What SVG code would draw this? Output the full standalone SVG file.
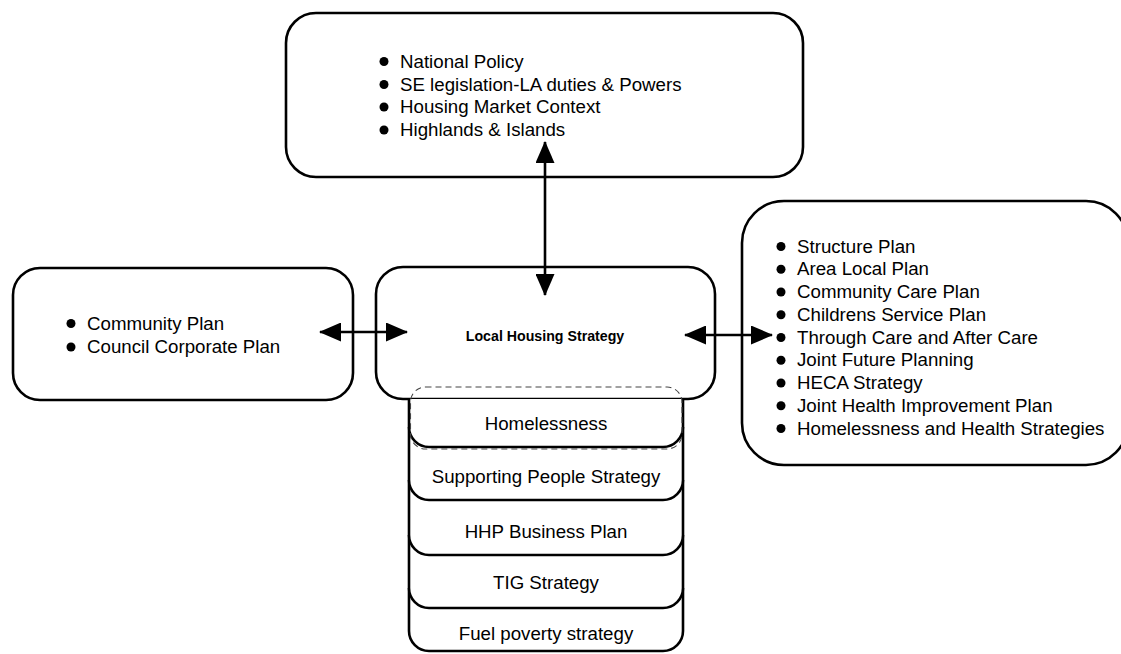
<svg xmlns="http://www.w3.org/2000/svg" width="1121" height="654" viewBox="0 0 1121 654">
<style>
.box{fill:#fff;stroke:#000;stroke-width:2.6}
.st{fill:#fff;stroke:#000;stroke-width:2.6}
.t{font-family:"Liberation Sans",Arial,sans-serif;font-size:18.7px;fill:#000}
.c{text-anchor:middle}
.b{font-weight:bold;font-size:14.2px}
.dot{fill:#000}
.dash{fill:none;stroke:#444;stroke-width:1.1;stroke-dasharray:6 4}
.con{stroke:#000;stroke-width:2.6;fill:none}
</style>
<defs>
<marker id="ah" viewBox="0 0 22 19" refX="21" refY="9.5" markerWidth="22" markerHeight="19" markerUnits="userSpaceOnUse" orient="auto-start-reverse">
<path d="M0,0 L22,9.5 L0,19 Z" fill="#000"/>
</marker>
</defs>

<g id="national">
<rect class="box" x="286" y="13" width="517" height="164" rx="30"/>
<g class="dot">
<circle cx="384" cy="61.5" r="4.5"/>
<circle cx="384" cy="84.5" r="4.5"/>
<circle cx="384" cy="107" r="4.5"/>
<circle cx="384" cy="130" r="4.5"/>
</g>
<text class="t" x="400" y="67.5">National Policy</text>
<text class="t" x="400" y="90.5">SE legislation-LA duties &amp; Powers</text>
<text class="t" x="400" y="113">Housing Market Context</text>
<text class="t" x="400" y="136">Highlands &amp; Islands</text>
</g>

<g id="community">
<rect class="box" x="13" y="268" width="340" height="132" rx="27"/>
<g class="dot">
<circle cx="71" cy="323.5" r="4.5"/>
<circle cx="71" cy="347" r="4.5"/>
</g>
<text class="t" x="87" y="329.5">Community Plan</text>
<text class="t" x="87" y="353">Council Corporate Plan</text>
</g>

<g id="plans">
<rect class="box" x="742" y="201" width="386" height="264" rx="42"/>
<g class="dot">
<circle cx="781" cy="246.5" r="4.5"/>
<circle cx="781" cy="269.25" r="4.5"/>
<circle cx="781" cy="292" r="4.5"/>
<circle cx="781" cy="314.75" r="4.5"/>
<circle cx="781" cy="337.5" r="4.5"/>
<circle cx="781" cy="360.25" r="4.5"/>
<circle cx="781" cy="383" r="4.5"/>
<circle cx="781" cy="405.75" r="4.5"/>
<circle cx="781" cy="428.5" r="4.5"/>
</g>
<text class="t" x="797" y="252.5">Structure Plan</text>
<text class="t" x="797" y="275.25">Area Local Plan</text>
<text class="t" x="797" y="298">Community Care Plan</text>
<text class="t" x="797" y="320.75">Childrens Service Plan</text>
<text class="t" x="797" y="343.5">Through Care and After Care</text>
<text class="t" x="797" y="366.25">Joint Future Planning</text>
<text class="t" x="797" y="389">HECA Strategy</text>
<text class="t" x="797" y="411.75">Joint Health Improvement Plan</text>
<text class="t" x="797" y="434.5">Homelessness and Health Strategies</text>
</g>

<g id="lhs">
<rect class="box" x="376" y="267" width="339" height="132" rx="27"/>
<text class="t b c" x="545" y="341">Local Housing Strategy</text>
</g>

<g id="fuel">
<path class="st" d="M409,588 V631 A20,20 0 0 0 429,651 H663 A20,20 0 0 0 683,631 V588"/>
<text class="t c" x="546" y="640">Fuel poverty strategy</text>
</g>
<g id="tig">
<path class="st" d="M409,535 V588 A20,20 0 0 0 429,608 H663 A20,20 0 0 0 683,588 V535"/>
<text class="t c" x="546" y="589.3">TIG Strategy</text>
</g>
<g id="hhp">
<path class="st" d="M409,480 V535 A20,20 0 0 0 429,555 H663 A20,20 0 0 0 683,535 V480"/>
<text class="t c" x="546" y="538.3">HHP Business Plan</text>
</g>
<g id="supporting">
<path class="st" d="M409,427 V480 A20,20 0 0 0 429,500 H663 A20,20 0 0 0 683,480 V427"/>
<text class="t c" x="546" y="482.7">Supporting People Strategy</text>
</g>
<g id="homelessness">
<path class="st" d="M409,399 V427 A20,20 0 0 0 429,447 H663 A20,20 0 0 0 683,427 V399"/>
<rect class="dash" x="410.5" y="387" width="271.5" height="62" rx="15"/>
<text class="t c" x="546" y="429.5">Homelessness</text>
</g>

<g id="connectors">
<line class="con" x1="545" y1="142" x2="545" y2="295" marker-start="url(#ah)" marker-end="url(#ah)"/>
<line class="con" x1="320" y1="332" x2="407" y2="332" marker-start="url(#ah)" marker-end="url(#ah)"/>
<line class="con" x1="685" y1="335" x2="772" y2="335" marker-start="url(#ah)" marker-end="url(#ah)"/>
</g>
</svg>
